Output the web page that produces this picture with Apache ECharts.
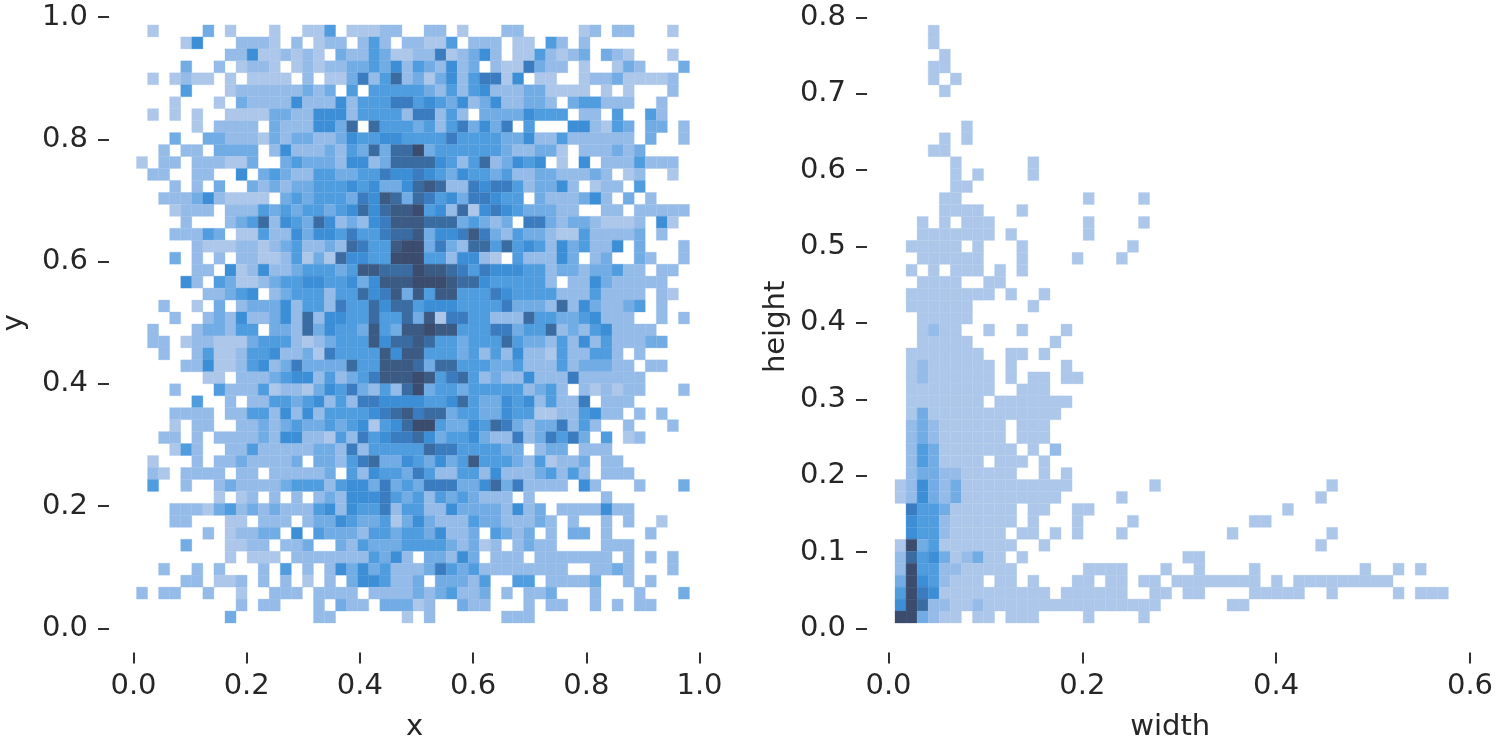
<!DOCTYPE html>
<html>
<head>
<meta charset="utf-8">
<style>html,body{margin:0;padding:0;background:#fff}#c{width:1500px;height:742px;filter:blur(0.7px)}</style>
<script src="https://cdn.jsdelivr.net/npm/echarts@6/dist/echarts.min.js"></script>
</head>
<body>
<div id="c"></div>
<script>
// Histogram levels, top row first; 50 columns, grouped in fives for reading.
const xyRows = [
"01000 03010 00100 11401 11220 02201 00022 00000 12022 00010",
"00001 50002 22102 01220 24202 21140 22201 10420 20000 00000",
"00000 00022 51121 21032 24311 22612 35201 14212 30321 00010",
"00003 00201 22101 21223 34352 43252 30211 63220 10013 20003",
"01012 11010 11110 20113 62472 31352 46615 01100 12231 11120",
"00004 00012 22222 32304 04444 43242 45222 33111 10101 00020",
"00010 00103 22225 22252 44466 45435 23522 33203 44222 00200",
"01010 10011 11332 25552 44442 66242 03333 54440 22040 04200",
"00000 10222 20322 25537 07444 34246 35360 40005 52143 03302",
"00030 03322 21323 32235 44554 44464 44433 52242 22222 03002",
"00202 20333 30252 22324 37377 93444 44432 23310 22232 30000",
"10220 22211 30034 33325 52377 77542 47235 45010 50222 42220",
"02200 22005 03432 24433 44655 65435 44342 23322 23201 20010",
"00020 20300 32323 34445 45335 78722 65664 23352 01220 40000",
"00222 35211 11034 34443 65873 76453 66544 03222 35203 02000",
"00012 22022 24343 44345 75788 94527 15654 33322 00220 22222",
"00002 00023 47254 37523 25688 87773 43230 66323 32111 20510",
"00022 24301 14225 35546 44677 83556 86324 33211 42222 30200",
"00000 21112 21234 22327 64489 93632 77474 54253 42250 30002",
"00030 20202 21124 13175 54499 94425 52104 22253 02300 32002",
"00000 22051 25223 44434 88777 98876 46555 44233 23342 20220",
"00005 20431 12344 55445 35888 99987 75444 44202 25322 22200",
"00000 02234 50234 44244 75683 84884 44654 44422 24222 20210",
"00200 10302 33352 44264 47577 45554 44463 33272 53223 40200",
"00020 02325 22352 72554 47447 38166 44222 74433 45222 00202",
"02000 23324 40332 73544 38438 89884 44663 44723 24522 22000",
"02201 22111 34442 12344 48577 87443 44474 33242 52422 23300",
"00200 24112 44522 31644 44858 84443 42425 22142 24420 20000",
"00002 25112 45236 33337 44888 73774 44334 22242 33322 02200",
"00000 01102 22345 52423 46888 98467 42322 52226 22222 20000",
"00020 00422 24122 13546 32427 93443 44444 23420 21212 20002",
"00000 40020 22443 45242 66555 54457 43354 52422 60222 00000",
"00022 22022 44252 52444 45678 67734 43354 41122 45220 20200",
"00010 22002 23234 33434 51457 99433 54763 23362 42002 00020",
"00220 20222 23255 22142 64566 75344 53226 23646 30401 20000",
"00014 20022 42222 23326 24444 47664 44433 02330 22200 00000",
"01000 20223 22223 03324 67335 43534 84443 24122 30220 00000",
"02102 22202 20222 22304 25443 64224 42522 23424 20222 00000",
"04002 00232 22234 44245 53634 36663 35736 22220 52000 20003",
"00000 00101 20202 02325 55643 42434 32220 20000 00200 00000",
"00022 21342 32322 24525 44624 42253 33325 23022 22522 00000",
"00022 00011 02220 23354 33413 53222 43322 23202 00202 00100",
"00000 02012 23305 04333 24434 43522 30432 30203 30200 02000",
"00003 00011 22022 30032 43334 44432 31202 32200 00222 00000",
"00000 00010 11102 22222 24352 03325 30222 02222 22202 02020",
"00200 20200 02040 20253 53422 23643 42222 22220 02232 00020",
"00002 20112 02020 10203 55422 30333 24004 40222 23002 02000",
"20220 02001 00222 02222 02222 32342 23020 22300 02000 20003",
"00000 00002 02200 02032 20333 12003 22000 20220 02020 22000",
"00000 00030 00000 02200 00001 02000 00022 20000 00000 00000"
];
const whRows = [
"00010","00010","00001","00011","00010 10000","00001","","",
"00000 01","00001 01","00011","00000 10000 00100","00000 10100 00100","00000 11",
"00001 10000 00000 00100 00100","00001 11100 01000",
"00101 01110 00000 00100 00100","00111 11110 10000 00100",
"01111 10100 01000 00000 01000","00111 11100 01000 01000 10000",
"01010 11101 01000","00111 10011","01111 11110 10010","01111 11000 00100",
"00111 11000","00121 10010 01000 10000","00111 11000 00001","01111 11100 11010",
"01211 11110 10000 10000","01211 11110 10110 11000","01111 11110 01110",
"01111 11101 11111 10000","01311 11111 11111",
"02321 11111 01110","02321 11111 01110","02431 11111 10102","02431 11101 11010",
"02332 21111 10010 10000",
"12532 31111 11111 10000 00010 00000 00000 00001",
"12532 31111 11111 00000 10000 00000 00000 00010",
"06443 11111 10110 01100 00000 00000 00000 10000",
"05442 11111 10100 01000 01000 00000 00110",
"05442 11111 01101 01000 10000 00000 10000 00001",
"19341 11111 10010 00000 00000 00000 00000 00010",
"27453 12311 01000 00000 00000 01100",
"29442 21111 10000 00111 10001 00100 00100 00000 00100 10100",
"39542 11101 10100 01101 10110 11111 11101 01111 11111 00000",
"49651 11111 11110 11111 10011 01100 00111 11001 00000 10111",
"59722 11211 11111 11111 11110 00000 11000",
"99321 10110 11100 00100 00100"
];
// Bin edges of each histogram, in data units.
const xyBinsX = [0.0053, 0.01954];
const xyBinsY = [0.009, 0.01956];
const whBinsX = [0.0067, 0.01142];
const whBinsY = [0.0072, 0.01565];
const xTicksLeft = [0, 1, 0.2];
const yTicksLeft = [0, 1, 0.2];
const xTicksRight = [0, 0.6, 0.2];
const yTicksRight = [0, 0.8, 0.1];
const palette = ['#ffffff','#adc7ea','#95bbe9','#72ace5','#4f9cdf','#3c8ed6','#3a7cbf','#3a6ca2','#3c5b84','#3b4c6e'];
const textColor = '#262626';

function cells(rows, bx, by) {
  const out = [];
  const n = rows.length;
  rows.forEach((r, i) => {
    const s = r.replace(/ /g, '');
    for (let c = 0; c < s.length; c++) {
      const v = +s[c];
      if (!v) continue;
      const row = n - 1 - i;
      out.push([bx[0] + c * bx[1], bx[0] + (c + 1) * bx[1], by[0] + row * by[1], by[0] + (row + 1) * by[1], v]);
    }
  });
  return out;
}
function render(params, api) {
  const a = api.coord([api.value(0), api.value(3)]);
  const b = api.coord([api.value(1), api.value(2)]);
  return {
    type: 'rect',
    shape: { x: a[0], y: a[1], width: b[0] - a[0], height: b[1] - a[1] },
    style: { fill: palette[api.value(4)], stroke: palette[api.value(4)], lineWidth: 0.3 }
  };
}
function nameStyle(shift) {
  return { color: textColor, fontSize: 29, fontFamily: 'DejaVu Sans', padding: [0, shift, 0, 0] };
}
function xAxis(idx, t, name, gap, shift) {
  return { type: 'value', gridIndex: idx, min: t[0], max: t[1], interval: t[2], offset: 24,
    name, nameLocation: 'middle', nameGap: gap, nameTextStyle: nameStyle(shift),
    axisLine: { show: false, onZero: false }, splitLine: { show: false },
    axisTick: { show: true, length: 11, lineStyle: { color: '#303030', width: 2 } },
    axisLabel: { color: textColor, fontSize: 29, fontFamily: 'DejaVu Sans', margin: 19, showMinLabel: true, showMaxLabel: true, formatter: v => v.toFixed(1) } };
}
function yAxis(idx, t, name, gap, off, shift) {
  return { type: 'value', gridIndex: idx, min: t[0], max: t[1], interval: t[2], offset: off,
    name, nameLocation: 'middle', nameGap: gap, nameTextStyle: nameStyle(shift),
    axisLine: { show: false, onZero: false }, splitLine: { show: false },
    axisTick: { show: true, length: 11, lineStyle: { color: '#303030', width: 2 } },
    axisLabel: { color: textColor, fontSize: 29, fontFamily: 'DejaVu Sans', margin: 21, showMinLabel: true, showMaxLabel: true, formatter: v => v.toFixed(1) } };
}
const chart = echarts.init(document.getElementById('c'), null, { renderer: 'canvas' });
chart.setOption({
  animation: false,
  backgroundColor: '#ffffff',
  grid: [
    { left: 133.5, top: 17, width: 566, height: 611.5, outerBoundsMode: 'none' },
    { left: 888.5, top: 17.3, width: 581.5, height: 611.2, outerBoundsMode: 'none' }
  ],
  xAxis: [xAxis(0, xTicksLeft, 'x', 60, 4), xAxis(1, xTicksRight, 'width', 60, 18)],
  yAxis: [yAxis(0, yTicksLeft, 'y', 80, 24.5, 0), yAxis(1, yTicksRight, 'height', 76, 21.5, 8)],
  series: [
    { type: 'custom', xAxisIndex: 0, yAxisIndex: 0, renderItem: render, clip: false,
      encode: { x: [0, 1], y: [2, 3] }, data: cells(xyRows, xyBinsX, xyBinsY) },
    { type: 'custom', xAxisIndex: 1, yAxisIndex: 1, renderItem: render, clip: false,
      encode: { x: [0, 1], y: [2, 3] }, data: cells(whRows, whBinsX, whBinsY) }
  ]
});
</script>
</body>
</html>
